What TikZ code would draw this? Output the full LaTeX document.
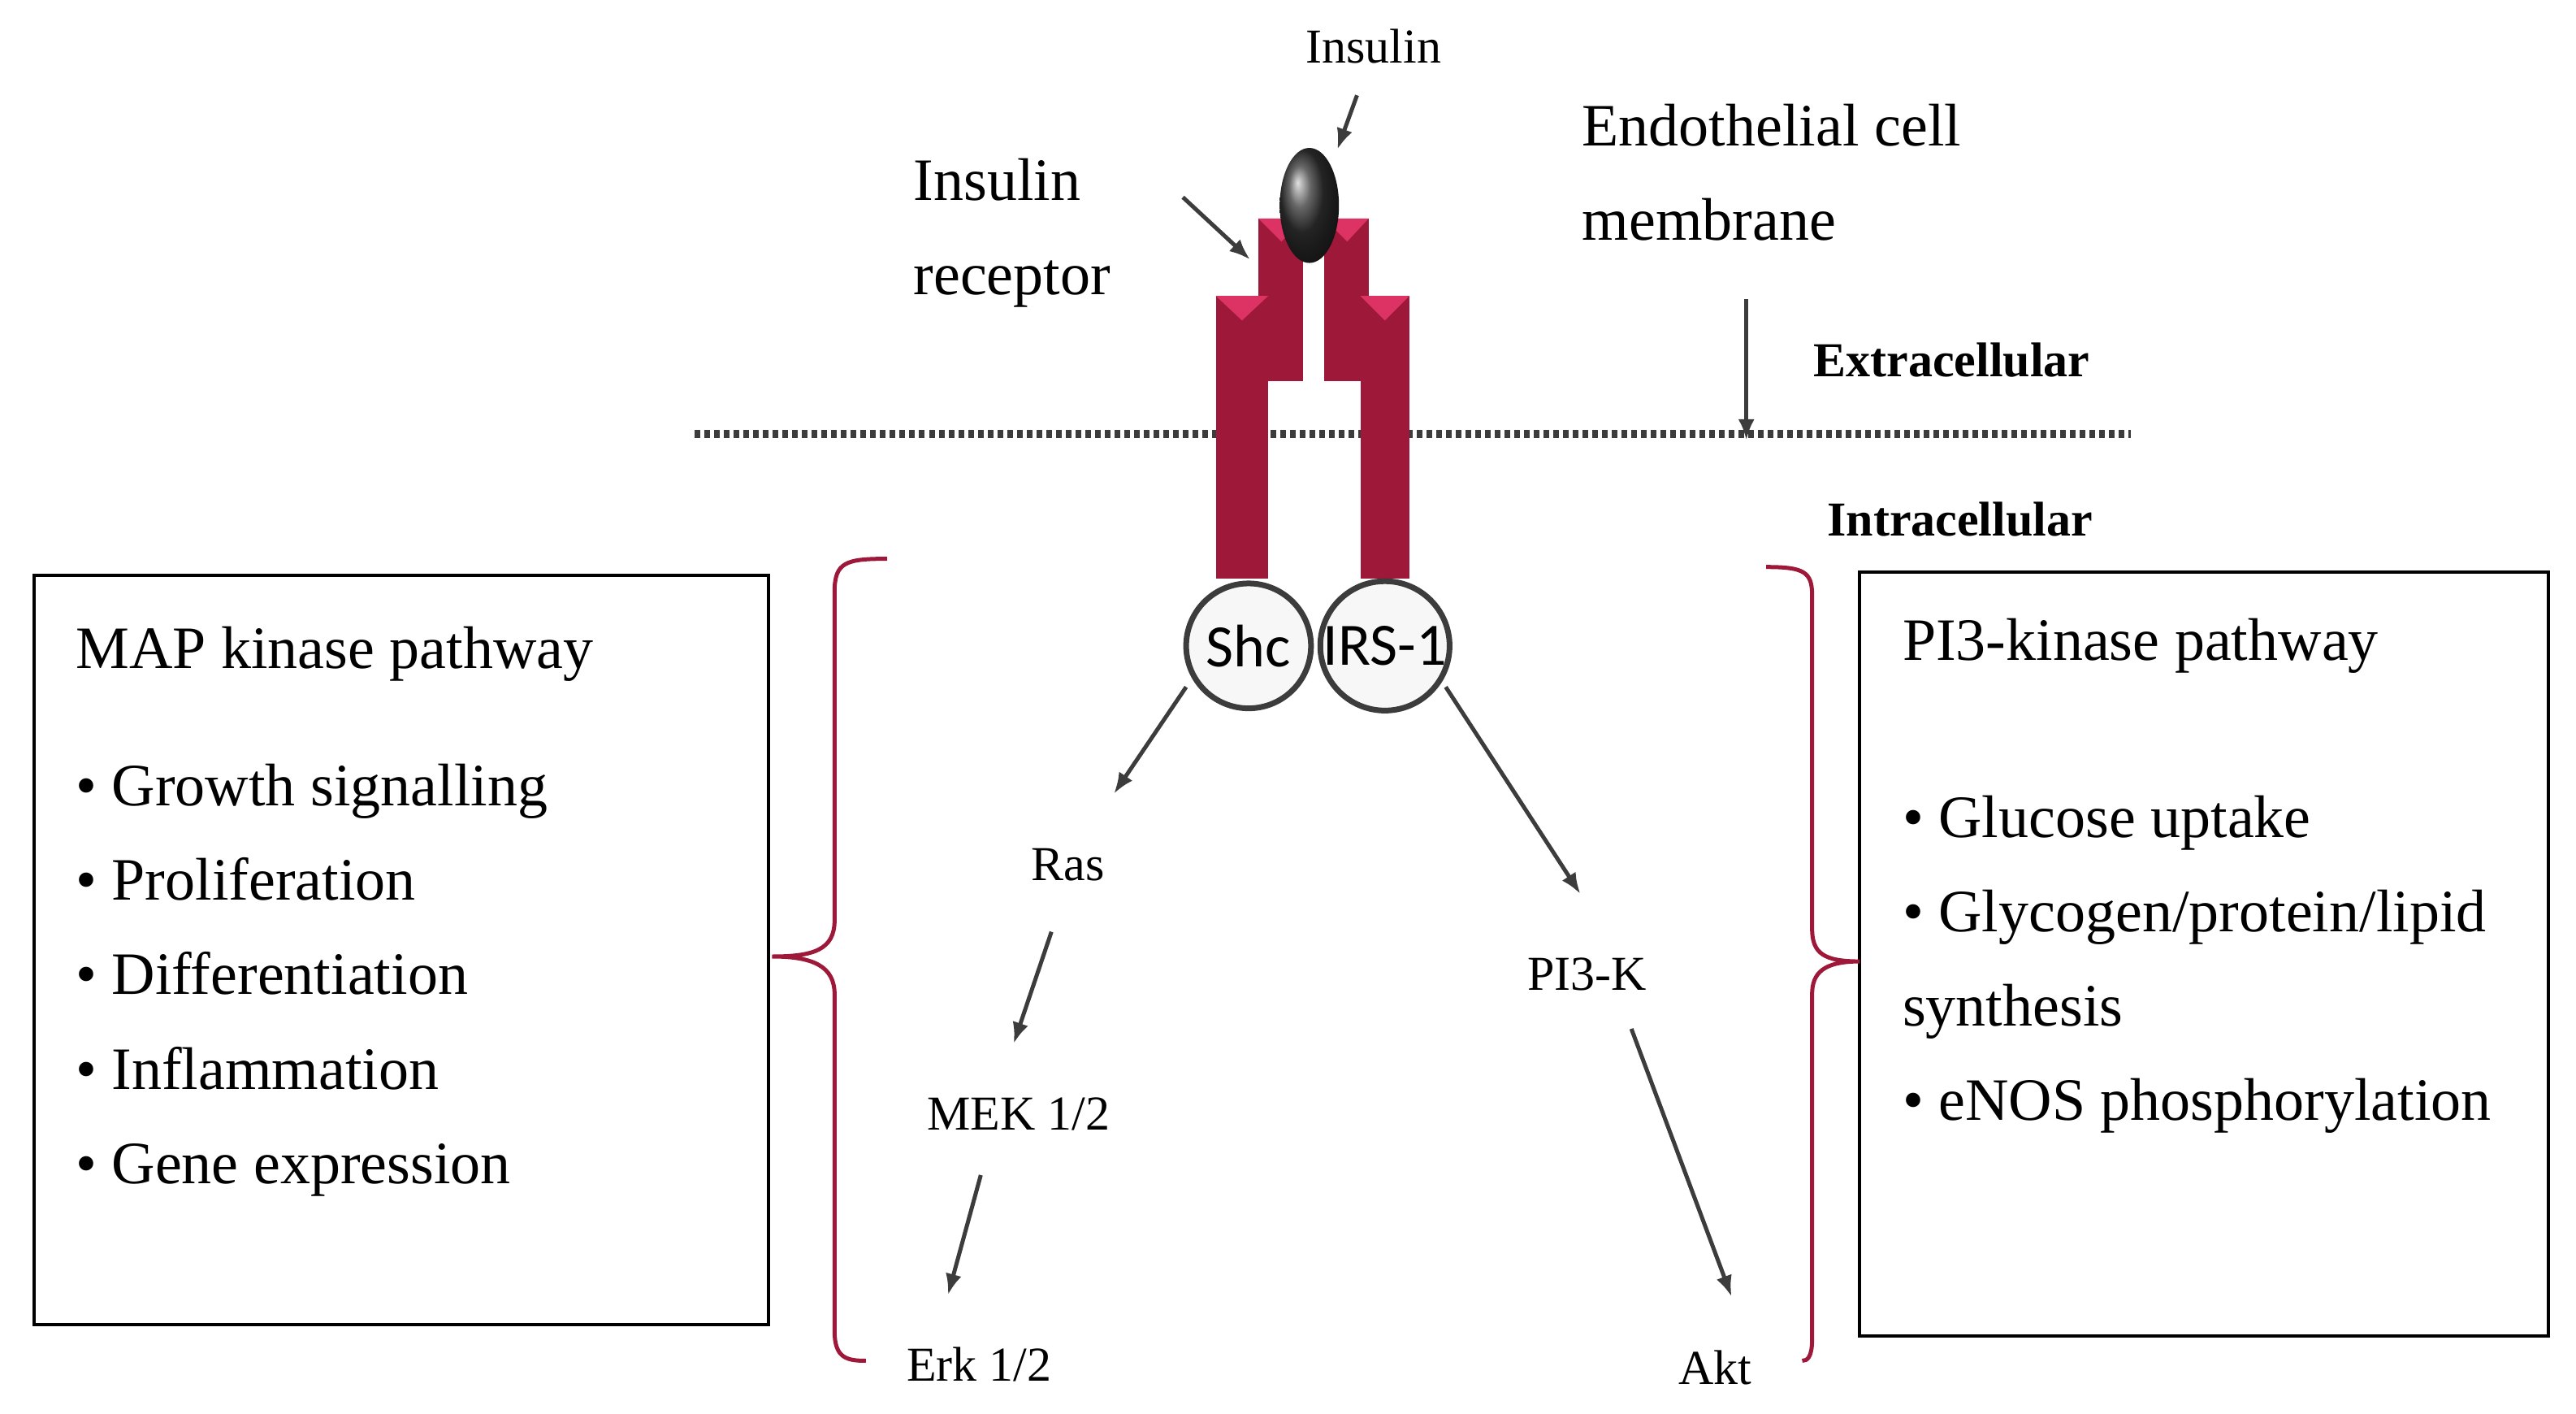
\documentclass[tikz,border=0pt]{standalone}
\usepackage{fontspec}
\setmainfont{Liberation Serif}
\newfontfamily\calib{Carlito}
\usetikzlibrary{arrows.meta}
\definecolor{rec}{RGB}{158,24,58}
\definecolor{recl}{RGB}{220,50,100}
\definecolor{arr}{RGB}{60,60,60}
\begin{document}
\begin{tikzpicture}[x=2.022pt,y=-2.022pt,
  lbl/.style={inner sep=0pt,font=\fontsize{60}{70}\selectfont},
  big/.style={inner sep=0pt,font=\fontsize{74}{116}\selectfont,align=left},
  bold/.style={inner sep=0pt,font=\fontsize{60}{70}\selectfont\bfseries},
  ar/.style={draw=arr,line width=5pt,-{Latex[length=26pt,width=20pt]}},
  box/.style={draw=black,line width=4pt},
  brace/.style={draw=rec,line width=5pt},
  bar/.style={fill=rec,draw=none},
  circ/.style={circle,draw=arr,line width=7pt,fill=gray!6,minimum size=76*2.022pt,inner sep=0pt,font=\calib\fontsize{74}{80}\selectfont}]
\useasboundingbox (0,0) rectangle (1568,860);
% membrane
\draw[line width=10pt,draw=arr,dash pattern=on 7pt off 5pt] (423,264) -- (1297,264);
% receptor
\fill[bar] (740,180) rectangle (772,352);
\fill[bar] (828,180) rectangle (858,352);
\fill[bar] (766,133) rectangle (793,232);
\fill[bar] (806,133) rectangle (833,232);
\fill[recl] (740,180) -- (772,180) -- (756,195) -- cycle;
\fill[recl] (828,180) -- (858,180) -- (843,195) -- cycle;
\fill[recl] (766,133) -- (793,133) -- (780,147) -- cycle;
\fill[recl] (806,133) -- (833,133) -- (820,147) -- cycle;
\shade[ball color=black!80] (797,125) ellipse (18 and 35);
\node[circ] (shc) at (760,393) {Shc};
\node[circ] (irs) at (843,393) {IRS-1};
% labels
\node[lbl] (ins) at (836,28) {Insulin};
\coordinate (insA) at (826,58);
\coordinate (insB) at (814,91);
\draw[ar] (insA) -- (insB);
\node[big,anchor=west] (ir) at (556,142) {Insulin\\receptor};
\coordinate (irA) at (720,120);
\coordinate (irB) at (761,158);
\draw[ar] (irA) -- (irB);
\node[big,anchor=west] (ecm) at (963,105) {Endothelial cell\\membrane};
\coordinate (mA) at (1063,182);
\coordinate (mB) at (1063,268);
\draw[ar] (mA) -- (mB);
\node[bold] (ext) at (1188,219) {Extracellular};
\node[bold] (int) at (1193,316) {Intracellular};
% pathway nodes
\node[lbl] (ras) at (650,526) {Ras};
\node[lbl] (mek) at (620,678) {MEK 1/2};
\node[lbl] (erk) at (596,830) {Erk 1/2};
\node[lbl] (pi3) at (966,593) {PI3-K};
\node[lbl] (akt) at (1044,832) {Akt};
\coordinate (a1) at (722,418); \coordinate (a2) at (678,483);
\coordinate (b1) at (640,567); \coordinate (b2) at (617,635);
\coordinate (c1) at (597,715); \coordinate (c2) at (577,788);
\coordinate (d1) at (880,418); \coordinate (d2) at (962,544);
\coordinate (e1) at (993,626); \coordinate (e2) at (1054,789);
\draw[ar] (a1) -- (a2);
\draw[ar] (b1) -- (b2);
\draw[ar] (c1) -- (c2);
\draw[ar] (d1) -- (d2);
\draw[ar] (e1) -- (e2);
% boxes
\draw[box] (21,350) rectangle (468,806);
\draw[box] (1132,348) rectangle (1551,813);
\node[big,anchor=west] (mapt) at (46,398) {MAP kinase pathway};
\node[big,anchor=north west] (mapl) at (46,465) {• Growth signalling\\• Proliferation\\• Differentiation\\• Inflammation\\• Gene expression};
\node[big,anchor=west] (pit) at (1158,393) {PI3-kinase pathway};
\node[big,anchor=north west] (pil) at (1158,484) {• Glucose uptake\\• Glycogen/protein/lipid\\synthesis\\• eNOS phosphorylation};
% braces
\draw[brace] (540,340) .. controls (515,340) and (508,342) .. (508,360) -- (508,560) .. controls (508,578) and (495,582) .. (470,582) .. controls (495,582) and (508,588) .. (508,605) -- (508,810) .. controls (508,826) and (515,828) .. (527,828);
\draw[brace] (1075,345) .. controls (1098,345) and (1103,348) .. (1103,362) -- (1103,565) .. controls (1103,580) and (1110,585) .. (1132,585) .. controls (1110,585) and (1103,592) .. (1103,605) -- (1103,815) .. controls (1103,826) and (1100,828) .. (1097,828);
\end{tikzpicture}
\end{document}
